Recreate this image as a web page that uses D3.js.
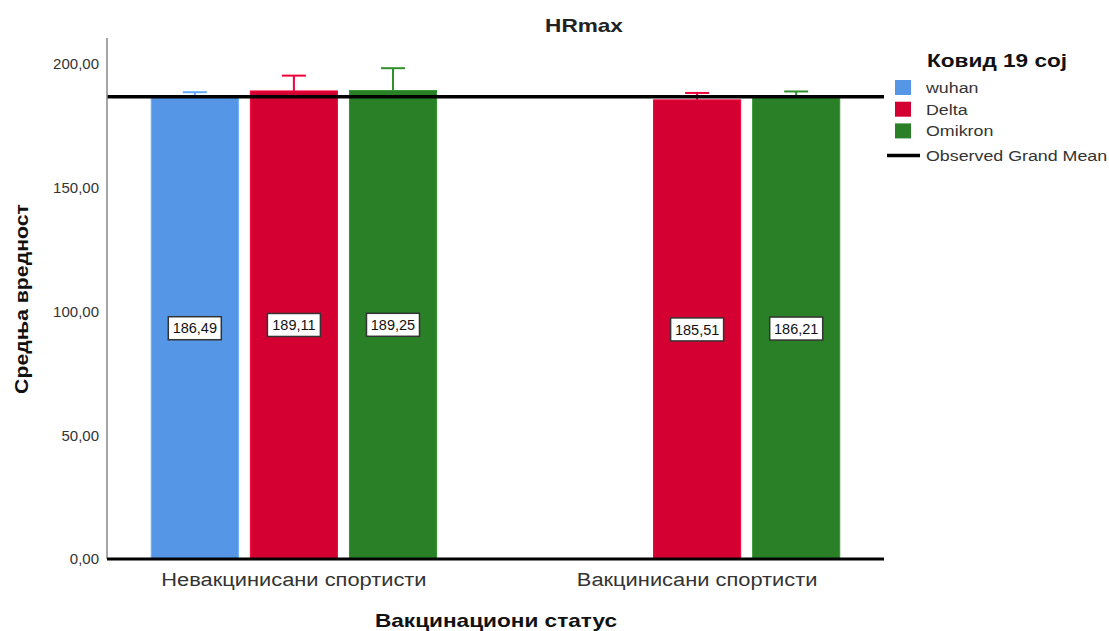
<!DOCTYPE html>
<html>
<head>
<meta charset="utf-8">
<script src="https://cdn.jsdelivr.net/npm/d3@7"></script>
<style>
  html, body { margin: 0; padding: 0; background: #fff; }
  svg { display: block; font-family: "Liberation Sans", Arial, sans-serif; }
</style>
</head>
<body>
<svg id="chart" width="1109" height="631"></svg>
<script>
// ---- data ----
const categories = ["Невакцинисани спортисти", "Вакцинисани спортисти"];
const series = ["wuhan", "Delta", "Omikron"];
const seriesColors = ["#5596e6", "#d50032", "#2a8026"];
// mean values per category (null = no bar)
const wuhanMeans   = [186.49, null];
const deltaMeans   = [189.11, 185.51];
const omikronMeans = [189.25, 186.21];
// upper end of error bars
const wuhanUpper   = [188.6, null];
const deltaUpper   = [195.3, 188.3];
const omikronUpper = [198.3, 188.9];
const grandMean = 186.8;
const yTicks = [0, 50, 100, 150, 200];
const yMax = 210.5;
const titleText = "HRmax";
const legendTitle = "Ковид 19 coj";
const grandMeanLabel = "Observed Grand Mean";
const xTitle = "Вакцинациони статус";
const yTitle = "Средња вредност";

(function () {
const meansBySeries = [wuhanMeans, deltaMeans, omikronMeans];
const upperBySeries = [wuhanUpper, deltaUpper, omikronUpper];

const svg = d3.select("#chart");
const pLeft = 107, pRight = 884, pTop = 38, pBottom = 559;
const SR = 1.15, SB = 1.19; // horizontal stretch of regular / bold text

const x0 = d3.scaleBand().domain(categories).range([pLeft, pRight])
  .paddingInner(0.263).paddingOuter(0.095);
const x1 = d3.scaleBand().domain(series).range([0, x0.bandwidth()])
  .paddingInner(0.111).paddingOuter(0.055);
const y = d3.scaleLinear().domain([0, yMax]).range([pBottom, pTop]);
const color = d3.scaleOrdinal().domain(series).range(seriesColors);

const fmt = v => d3.format(".2f")(v).replace(".", ",");

const recs = [];
categories.forEach((c, ci) => {
  series.forEach((s, si) => {
    const v = meansBySeries[si][ci];
    if (v != null) recs.push({ cat: c, ser: s, value: v, upper: upperBySeries[si][ci] });
  });
});

// bars
svg.append("g").selectAll("rect").data(recs).join("rect")
  .attr("x", d => x0(d.cat) + x1(d.ser) + 0.5)
  .attr("width", x1.bandwidth() - 1)
  .attr("y", d => y(d.value))
  .attr("height", d => y(0) - y(d.value))
  .attr("fill", d => color(d.ser))
  .attr("stroke", d => d3.color(color(d.ser)).brighter(0.4))
  .attr("stroke-width", 1);

// error bars (upper)
const eb = svg.append("g");
const capW = 24;
recs.forEach(d => {
  const cx = x0(d.cat) + x1(d.ser) + x1.bandwidth() / 2;
  const c = d3.color(color(d.ser)).brighter(0.35);
  eb.append("line").attr("x1", cx).attr("x2", cx)
    .attr("y1", y(d.value)).attr("y2", y(d.upper))
    .attr("stroke", c).attr("stroke-width", 2);
  eb.append("line").attr("x1", cx - capW / 2).attr("x2", cx + capW / 2)
    .attr("y1", y(d.upper)).attr("y2", y(d.upper))
    .attr("stroke", c).attr("stroke-width", 2);
});

// grand mean line
svg.append("line")
  .attr("x1", pLeft).attr("x2", pRight)
  .attr("y1", y(grandMean)).attr("y2", y(grandMean))
  .attr("stroke", "#000").attr("stroke-width", 3.5);

// y axis
const yAxis = d3.axisLeft(y).tickValues(yTicks).tickSize(0).tickPadding(8)
  .tickFormat(fmt);
const yg = svg.append("g").attr("transform", `translate(${pLeft},0)`).call(yAxis);
yg.select(".domain").remove();
yg.selectAll("text").attr("font-size", 15).attr("fill", "#333")
  .attr("font-family", "Liberation Sans, Arial, sans-serif");
svg.append("line").attr("x1", pLeft).attr("x2", pLeft).attr("y1", pTop).attr("y2", pBottom)
  .attr("stroke", "#888").attr("stroke-width", 1.5);

// x axis
const xAxis = d3.axisBottom(x0).tickSize(0).tickPadding(14);
const xg = svg.append("g").attr("transform", `translate(0,${pBottom})`).call(xAxis);
xg.select(".domain").remove();
xg.selectAll("text").attr("font-size", 19).attr("fill", "#333")
  .attr("font-family", "Liberation Sans, Arial, sans-serif")
  .attr("transform", `scale(${SR},1)`);
svg.append("line").attr("x1", pLeft).attr("x2", pRight).attr("y1", pBottom).attr("y2", pBottom)
  .attr("stroke", "#000").attr("stroke-width", 3);

// value labels
const lab = svg.append("g").selectAll("g").data(recs).join("g")
  .attr("transform", d => `translate(${x0(d.cat) + x1(d.ser) + x1.bandwidth() / 2},${y(d.value / 2)})`);
lab.append("rect").attr("x", -26.5).attr("y", -11.5).attr("width", 53).attr("height", 23)
  .attr("fill", "#fff").attr("stroke", "#333").attr("stroke-width", 1.5);
lab.append("text").attr("text-anchor", "middle").attr("dy", "0.36em")
  .attr("font-size", 14.5).attr("fill", "#111").text(d => fmt(d.value));

// helper for stretched text
function stext(x, yy, str, opts) {
  const t = svg.append("text")
    .attr("transform", `translate(${x},${yy})${opts.rotate ? " rotate(" + opts.rotate + ")" : ""} scale(${opts.s},1)`)
    .attr("text-anchor", opts.anchor || "start")
    .attr("font-size", opts.size)
    .attr("font-weight", opts.bold ? "bold" : "normal")
    .attr("fill", opts.fill || "#111")
    .text(str);
  if (opts.dy) t.attr("dy", opts.dy);
  return t;
}

// title
stext(584, 32, titleText, { s: SB, anchor: "middle", size: 19, bold: true, fill: "#222" });

// axis titles
stext(496, 627, xTitle, { s: SB, anchor: "middle", size: 19, bold: true });
stext(28, 299, yTitle, { s: SB - 0.07, anchor: "middle", size: 19, bold: true, rotate: -90 });

// legend
stext(927, 67, legendTitle, { s: SB, size: 19, bold: true });
series.forEach((s, i) => {
  const yy = 80 + i * 21.7;
  svg.append("rect").attr("x", 895).attr("y", yy).attr("width", 16).attr("height", 15)
    .attr("fill", color(s));
  stext(926, yy + 7.5, s, { s: SR, size: 15.5, fill: "#333", dy: "0.36em" });
});
svg.append("line").attr("x1", 887).attr("x2", 920).attr("y1", 155.5).attr("y2", 155.5)
  .attr("stroke", "#000").attr("stroke-width", 3.5);
stext(926, 155.5, grandMeanLabel, { s: SR, size: 15.5, fill: "#333", dy: "0.36em" });
})();
</script>
</body>
</html>
